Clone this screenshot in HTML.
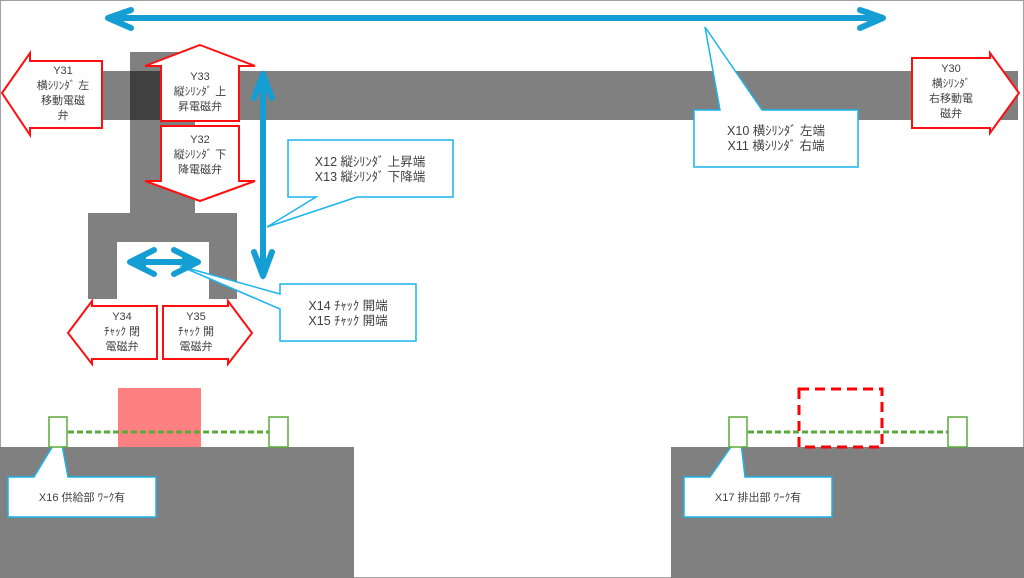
<!DOCTYPE html>
<html><head><meta charset="utf-8"><style>
html,body{margin:0;padding:0;background:#fff;}
svg{display:block;}
text{font-family:"Liberation Sans","Noto Sans CJK JP",sans-serif;font-size:11px;fill:#404040;text-anchor:middle;}
.c{font-size:12.5px;}
</style></head><body>
<svg width="1024" height="578" viewBox="0 0 1024 578" xmlns="http://www.w3.org/2000/svg">
<rect x="0.5" y="0.5" width="1023" height="577" fill="#fff" stroke="#a0a0a0"/>
<rect x="103" y="71" width="915" height="49" fill="#808080"/>
<rect x="130" y="52" width="65" height="162" fill="#808080"/>
<rect x="130" y="71" width="31" height="49" fill="#404040"/>
<path d="M88 213H237V299H209V242H117V299H88Z" fill="#808080"/>
<rect x="0" y="447" width="354" height="131" fill="#808080"/>
<rect x="671" y="447" width="353" height="131" fill="#808080"/>
<g fill="#fff" stroke="#ff1010" stroke-width="2">
<polygon points="200,45 255,66 239,66 239,121 161,121 161,66 145,66"/>
<polygon points="161,126 239,126 239,181 255,181 200,201 145,181 161,181"/>
<polygon points="2,93 30,53 30,61 102,61 102,128 30,128 30,135"/>
<polygon points="1019,93 990,53 990,58 912,58 912,128 990,128 990,133"/>
<polygon points="68,333 92,301 92,306 157,306 157,359 92,359 92,364"/>
<polygon points="252,333 228,301 228,306 163,306 163,359 228,359 228,364"/>
</g>
<text x="200" y="80">Y33</text><text x="200" y="95">縦ｼﾘﾝﾀﾞ 上</text><text x="200" y="110">昇電磁弁</text>
<text x="200" y="143">Y32</text><text x="200" y="158">縦ｼﾘﾝﾀﾞ 下</text><text x="200" y="173">降電磁弁</text>
<text x="63" y="74">Y31</text><text x="63" y="89">横ｼﾘﾝﾀﾞ 左</text><text x="63" y="104">移動電磁</text><text x="63" y="119">弁</text>
<text x="951" y="72">Y30</text><text x="951" y="87">横ｼﾘﾝﾀﾞ</text><text x="951" y="102">右移動電</text><text x="951" y="117">磁弁</text>
<text x="122" y="320">Y34</text><text x="122" y="335">ﾁｬｯｸ 閉</text><text x="122" y="350">電磁弁</text>
<text x="196" y="320">Y35</text><text x="196" y="335">ﾁｬｯｸ 開</text><text x="196" y="350">電磁弁</text>
<g fill="#fff" stroke="#1ab4ec" stroke-width="1.5">
<path d="M288 140H453V197H357L267 227L316 197H288Z"/>
<path d="M280 284H416V341H280V309L180 266L280 294Z"/>
<path d="M694 110H720L705 27L762 110H858V167H694Z"/>
<path d="M8 477H34L60 434L68 477H156V517H8Z"/>
<path d="M684 477H710L740 434L745 477H832V517H684Z"/>
</g>
<text class="c" x="370" y="166">X12 縦ｼﾘﾝﾀﾞ 上昇端</text><text class="c" x="370" y="181">X13 縦ｼﾘﾝﾀﾞ 下降端</text>
<text class="c" x="348" y="310">X14 ﾁｬｯｸ 開端</text><text class="c" x="348" y="325">X15 ﾁｬｯｸ 開端</text>
<text class="c" x="776" y="135">X10 横ｼﾘﾝﾀﾞ 左端</text><text class="c" x="776" y="150">X11 横ｼﾘﾝﾀﾞ 右端</text>
<text x="82" y="501">X16 供給部 ﾜｰｸ有</text>
<text x="758" y="501">X17 排出部 ﾜｰｸ有</text>
<g fill="#149ed4">
<polygon points="105,18 124,9 124,27"/><polygon points="886,18 867,9 867,27"/>
<polygon points="263,70 254,92 272,92"/><polygon points="263,280 254,258 272,258"/>
<polygon points="127,262 146,253 146,271"/><polygon points="201,262 182,253 182,271"/>
</g>
<g stroke="#149ed4" stroke-width="6" stroke-linecap="round" stroke-linejoin="round" fill="none">
<line x1="110" y1="18" x2="880" y2="18"/>
<polyline points="131,10 108,18 131,28"/>
<polyline points="860,10 883,18 860,28"/>
<line x1="263" y1="76" x2="263" y2="274"/>
<polyline points="254,98 263,74 272,98"/>
<polyline points="254,252 263,276 272,252"/>
<line x1="132" y1="262" x2="195" y2="262"/>
<polyline points="154,250 130,262 154,274"/>
<polyline points="174,250 198,262 174,274"/>
</g>
<rect x="118" y="388" width="83" height="59" fill="#ff8080"/>
<g fill="#fff" stroke="#5aaa3c" stroke-width="1.5">
<rect x="49" y="417" width="18" height="30"/><rect x="269" y="417" width="19" height="30"/>
<rect x="729" y="417" width="18" height="30"/><rect x="948" y="417" width="19" height="30"/>
</g>
<g stroke="#5aaa3c" stroke-width="3" stroke-dasharray="6,3">
<line x1="68" y1="432" x2="269" y2="432"/><line x1="748" y1="432" x2="948" y2="432"/>
</g>
<rect x="799" y="389" width="83" height="58" fill="none" stroke="#f00" stroke-width="3" stroke-dasharray="10,6"/>
</svg>
</body></html>
